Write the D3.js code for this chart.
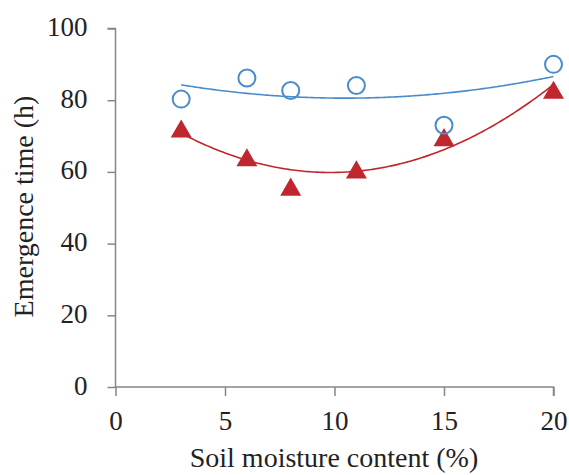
<!DOCTYPE html>
<html><head><meta charset="utf-8">
<script src="https://cdn.jsdelivr.net/npm/d3@7"></script>
<style>body{margin:0;background:#fff}svg{display:block}text{font-family:"Times New Roman","Liberation Serif",serif;fill:#222}</style>
</head><body>
<script>
const moisture = [3, 6, 8, 11, 15, 20];
const seriesCircle = [80.3, 86.2, 82.7, 84.1, 73.0, 90.0];
const seriesTriangle = [72.1, 64.1, 55.9, 60.7, 69.7, 82.9];
const xTicks = [0, 5, 10, 15, 20];
const yTicks = [0, 20, 40, 60, 80, 100];

const W = 569, H = 475;
const FONT = '"Times New Roman", "Liberation Serif", serif';
const svg = d3.select("body").append("svg").attr("width", W).attr("height", H);
const x = d3.scaleLinear().domain([0, 20]).range([115.5, 553.5]);
const y = d3.scaleLinear().domain([0, 100]).range([387, 28.5]);
const axisColor = "#868686";

// quadratic least squares fit (trend line derived from the data)
function quadFit(xs, ys) {
  let S = [0,0,0,0,0], T = [0,0,0];
  xs.forEach((xi, i) => {
    for (let k = 0; k < 5; k++) S[k] += Math.pow(xi, k);
    for (let k = 0; k < 3; k++) T[k] += ys[i] * Math.pow(xi, k);
  });
  const M = [[S[0],S[1],S[2],T[0]],[S[1],S[2],S[3],T[1]],[S[2],S[3],S[4],T[2]]];
  for (let i = 0; i < 3; i++) {
    for (let j = i + 1; j < 3; j++) {
      const f = M[j][i] / M[i][i];
      for (let k = i; k < 4; k++) M[j][k] -= f * M[i][k];
    }
  }
  const c = [0,0,0];
  for (let i = 2; i >= 0; i--) {
    let s = M[i][3];
    for (let k = i + 1; k < 3; k++) s -= M[i][k] * c[k];
    c[i] = s / M[i][i];
  }
  return t => c[0] + c[1]*t + c[2]*t*t;
}

// axes
const gx = svg.append("g").attr("transform", `translate(0,${y(0)})`)
  .call(d3.axisBottom(x).tickValues(xTicks).tickSize(9).tickPadding(15).tickFormat(d3.format("d")));
const gy = svg.append("g").attr("transform", `translate(${x(0)},0)`)
  .call(d3.axisLeft(y).tickValues(yTicks).tickSize(8).tickPadding(20).tickFormat(d3.format("d")));
[gx, gy].forEach(g => {
  g.attr("font-family", FONT);
  g.select(".domain").attr("stroke", axisColor).attr("stroke-width", 1.5);
  g.selectAll(".tick line").attr("stroke", axisColor).attr("stroke-width", 1.5);
  g.selectAll("text").style("font-family", FONT).style("font-size", "27px").attr("fill", "#222");
});
gy.selectAll("text").attr("dy", "0.26em");
gy.select(".domain").attr("d", `M-8,${y(100)}H0V${y(0)}`);
gx.select(".domain").attr("d", `M${x(0)},0H${x(20)}V9`);

// trend lines
const xs = d3.range(3, 20.001, 0.1);
const fitC = quadFit(moisture, seriesCircle);
const fitT = quadFit(moisture, seriesTriangle);
const line = f => d3.line().x(d => x(d)).y(d => y(f(d)));
svg.append("path").attr("d", line(fitC)(xs)).attr("fill", "none").attr("stroke", "#4a8ccb").attr("stroke-width", 1.6);
svg.append("path").attr("d", line(fitT)(xs)).attr("fill", "none").attr("stroke", "#c0262e").attr("stroke-width", 1.6);

// triangles (bounding-box centred on the value)
const triSize = 190;
const triH = Math.sqrt(triSize * 4 / Math.sqrt(3)) * Math.sqrt(3) / 2;
const tri = d3.symbol().type(d3.symbolTriangle).size(triSize);
svg.selectAll(".tri").data(moisture).enter().append("path")
  .attr("d", tri).attr("transform", (d, i) => `translate(${x(d)},${y(seriesTriangle[i]) + triH / 6})`)
  .attr("fill", "#c0262e");

// circles
svg.selectAll(".cir").data(moisture).enter().append("circle")
  .attr("cx", d => x(d)).attr("cy", (d, i) => y(seriesCircle[i])).attr("r", 8.5)
  .attr("fill", "none").attr("stroke", "#4a8ccb").attr("stroke-width", 2);

// titles
svg.append("text").attr("x", 334).attr("y", 467).attr("text-anchor", "middle")
  .style("font-family", FONT).style("font-size", "28px").text("Soil moisture content (%)");
svg.append("text").attr("transform", `translate(33,${206.5}) rotate(-90)`).attr("text-anchor", "middle")
  .style("font-family", FONT).style("font-size", "28px").text("Emergence time (h)");
</script>
</body></html>
